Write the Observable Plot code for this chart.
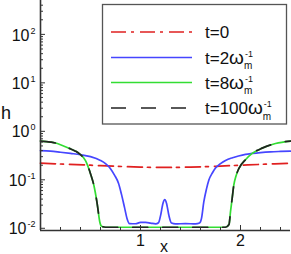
<!DOCTYPE html>
<html><head><meta charset="utf-8">
<script src="https://cdn.jsdelivr.net/npm/d3@7"></script>
<script src="https://cdn.jsdelivr.net/npm/@observablehq/plot@0.6"></script>
<style>html,body{margin:0;padding:0;background:#fff} svg{display:block}</style>
</head><body><div id="chart"></div>
<script>
// ---- data ----
const xRed = [0, 0.25, 0.5, 0.75, 1.0, 1.25, 1.5, 1.75, 2.0, 2.25, 2.5];
const hRed = [0.22, 0.21, 0.20, 0.19, 0.183, 0.18, 0.183, 0.19, 0.20, 0.21, 0.22];

const xBlue = [0, 0.1, 0.2, 0.3, 0.4, 0.5, 0.6, 0.65, 0.7, 0.74, 0.78, 0.81, 0.84, 0.865, 0.89, 0.95, 1.0, 1.05, 1.1, 1.15, 1.18, 1.2, 1.225, 1.243, 1.26, 1.285, 1.31, 1.35, 1.45, 1.55, 1.59, 1.61, 1.633, 1.66, 1.683, 1.72, 1.75, 1.8, 1.85, 1.92, 1.98, 2.05, 2.117, 2.2, 2.3, 2.4, 2.5];
const hBlue = [0.40, 0.39, 0.37, 0.35, 0.33, 0.30, 0.25, 0.215, 0.17, 0.125, 0.085, 0.05, 0.027, 0.016, 0.0125, 0.0124, 0.0132, 0.0132, 0.0128, 0.0123, 0.013, 0.018, 0.033, 0.039, 0.033, 0.018, 0.0128, 0.0123, 0.0125, 0.0123, 0.0128, 0.016, 0.035, 0.065, 0.098, 0.14, 0.175, 0.215, 0.25, 0.285, 0.31, 0.335, 0.35, 0.365, 0.378, 0.385, 0.39];

const xGreen = [0, 0.1, 0.15, 0.2, 0.283, 0.35, 0.393, 0.45, 0.5, 0.533, 0.567, 0.593, 0.61, 0.65, 1.0, 1.5, 1.85, 1.885, 1.9, 1.917, 1.933, 1.955, 1.983, 2.05, 2.117, 2.217, 2.35, 2.5];
const hGreen = [0.63, 0.60, 0.574, 0.53, 0.45, 0.39, 0.34, 0.25, 0.134, 0.078, 0.032, 0.0135, 0.011, 0.0105, 0.0105, 0.0105, 0.0105, 0.012, 0.022, 0.042, 0.078, 0.12, 0.17, 0.26, 0.35, 0.45, 0.56, 0.63];

const xBlack = xGreen;
const hBlack = hGreen;

const seriesLabels = ["t=0", "t=2", "t=8", "t=100"];
const seriesColors = ["#e02020", "#4646ff", "#33dd33", "#222222"];
const seriesDash = ["15,5,3,6", null, null, "15,15"];

const yMajor = [0.01, 0.1, 1, 10, 100];
const yExp = ["-2", "-1", "0", "1", "2"];
const yMinor = [0.02,0.03,0.04,0.05,0.06,0.07,0.08,0.09,0.2,0.3,0.4,0.5,0.6,0.7,0.8,0.9,2,3,4,5,6,7,8,9,20,30,40,50,60,70,80,90,200,300,400];
const xMajor = [1, 2];
const xMinor = [0.2,0.4,0.6,0.8,1.2,1.4,1.6,1.8,2.2,2.4];

const yDomain = [0.009, 500];
const xDomain = [0, 2.5];

// ---- build tables ----
const seriesX = [xRed, xBlue, xGreen, xBlack];
const seriesH = [hRed, hBlue, hGreen, hBlack];
const tables = seriesX.map((xs, i) => xs.map((x, j) => ({x, h: seriesH[i][j], s: seriesLabels[i]})));

const W = 291, H = 254, ML = 40, MR = 1, MT = 0, MB = 24;
const axisColor = "#333";
const FONT = "'Liberation Sans', Arial, sans-serif";

const lineMarks = tables.map((t, i) => Plot.line(t, {
  x: "x", y: "h", stroke: seriesColors[i], strokeWidth: 1.7,
  strokeDasharray: seriesDash[i] || undefined, curve: "monotone-x"
}));

const chart = Plot.plot({
  width: W, height: H,
  marginLeft: ML, marginRight: MR, marginTop: MT, marginBottom: MB,
  x: {domain: xDomain, axis: null},
  y: {type: "log", domain: yDomain, axis: null},
  style: {background: "#fff", fontFamily: FONT, fontSize: "15px", color: "#111"},
  marks: [
    ...lineMarks,
    Plot.ruleY(yMinor, {y: d => d, stroke: axisColor, strokeWidth: 1, insetRight: (W - ML - MR) - 3}),
    Plot.ruleY(yMajor, {y: d => d, stroke: axisColor, strokeWidth: 1, insetRight: (W - ML - MR) - 5}),
    Plot.ruleX(xMinor, {x: d => d, stroke: axisColor, strokeWidth: 1, insetTop: (H - MT - MB) - 3}),
    Plot.ruleX(xMajor, {x: d => d, stroke: axisColor, strokeWidth: 1, insetTop: (H - MT - MB) - 5}),
    Plot.ruleX([xDomain[0]], {stroke: axisColor, strokeWidth: 1.6}),
    Plot.ruleY([yDomain[0]], {stroke: axisColor, strokeWidth: 1.6}),
    Plot.text(xMajor, {x: d => d, frameAnchor: "bottom", dy: 15, text: d => String(d), fontSize: 16, fill: "#111"}),
    Plot.text(yMajor, {y: d => d, frameAnchor: "left", dx: -5, dy: 1, textAnchor: "end", text: (d, i) => "10^" + yExp[i], fontSize: 16, fill: "#111", className: "ylab"})
  ]
});

document.getElementById("chart").appendChild(chart);
const svg = d3.select(chart.tagName.toLowerCase() === "svg" ? chart : chart.querySelector("svg"));

// superscript y labels
svg.selectAll(".ylab text").each(function() {
  const t = d3.select(this);
  const parts = t.text().split("^");
  t.text(parts[0]);
  t.append("tspan").attr("dy", "-7").attr("dx", 1).attr("font-size", 9).text(parts[1]);
});

// axis titles
svg.append("text").attr("x", 1).attr("y", 119).attr("font-size", 18).attr("fill", "#111")
  .attr("text-anchor", "start").attr("font-family", FONT).text("h");
svg.append("text").attr("x", 164).attr("y", 252).attr("text-anchor", "middle").attr("font-size", 16).attr("fill", "#111")
  .attr("font-family", FONT).text("x");

// legend
const lg = svg.append("g").attr("font-family", FONT).attr("fill", "#111").attr("text-anchor", "start");
lg.append("rect").attr("x", 102.5).attr("y", 4.5).attr("width", 184).attr("height", 119.5)
  .attr("fill", "#fff").attr("stroke", "#555").attr("stroke-width", 1.3);
const rowY = [32, 57.5, 82.5, 108];
const tNums = ["0", "2", "8", "100"];
rowY.forEach((y, i) => {
  lg.append("line").attr("x1", 111).attr("x2", 192).attr("y1", y).attr("y2", y)
    .attr("stroke", seriesColors[i]).attr("stroke-width", 1.7)
    .attr("stroke-dasharray", seriesDash[i] || null);
  const tx = lg.append("text").attr("x", 205).attr("y", y + 6).attr("font-size", 17).attr("text-anchor", "start");
  if (i === 0) {
    tx.text("t=" + tNums[i]);
  } else {
    tx.append("tspan").text("t=" + tNums[i]);
    tx.append("tspan").attr("font-size", 19).text("ω");
    const sup = tx.append("tspan").attr("font-size", 9).attr("dy", -7).attr("dx", 1).text("-1");
    const w = sup.node().getComputedTextLength();
    tx.append("tspan").attr("font-size", 10).attr("dx", -w - 1).attr("dy", 12.5).text("m");
  }
});
</script>
</body></html>
